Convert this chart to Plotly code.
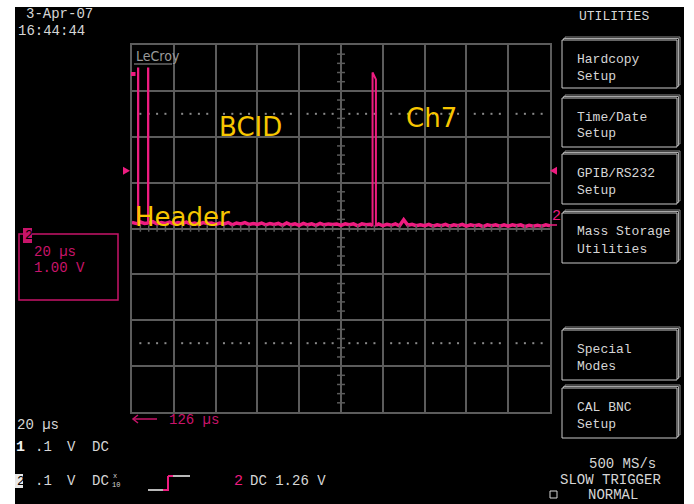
import plotly.graph_objects as go

# ---------------- waveform data (channel 2) ----------------
t_start_us = 126.0          # left edge of the screen, 126 us after trigger
t_step_us = 2.0             # baseline sample spacing
screen_span_us = 200.0      # 10 div x 20 us/div

# baseline samples (V), one per 2 us from 126 us to 326 us
base_v = [
    0.13, 0.10, 0.14, 0.11, 0.12, 0.15, 0.10, 0.13, 0.11, 0.14,
    0.10, 0.13, 0.11, 0.14, 0.10, 0.12, 0.09, 0.13, 0.11, 0.12,
    0.09, 0.12, 0.10, 0.13, 0.08, 0.12, 0.10, 0.13, 0.09, 0.11,
    0.09, 0.12, 0.08, 0.11, 0.09, 0.11, 0.07, 0.12, 0.08, 0.10,
    0.07, 0.11, 0.08, 0.10, 0.07, 0.11, 0.08, 0.10, 0.09, 0.10,
    0.07, 0.10, 0.08, 0.10, 0.06, 0.10, 0.08, 0.09, 0.07, 0.10,
    0.06, 0.09, 0.07, 0.10, 0.06, 0.19, 0.07, 0.09, 0.06, 0.08,
    0.06, 0.09, 0.05, 0.08, 0.06, 0.09, 0.05, 0.08, 0.06, 0.09,
    0.05, 0.08, 0.06, 0.08, 0.04, 0.08, 0.06, 0.08, 0.05, 0.08,
    0.05, 0.08, 0.06, 0.08, 0.04, 0.07, 0.05, 0.07, 0.05, 0.08,
    0.06,
]

# narrow pulses: header bits and channel-7 hit
pulse_rise_us = [128.87, 133.66, 241.10]
pulse_fall_us = [129.00, 133.80, 242.70]
pulse_top_start_v = [3.49, 3.49, 3.40]
pulse_top_end_v = [3.49, 3.49, 3.25]

trig_level_v = 1.26

# ---------------- build the trace ----------------
base_t = [t_start_us + i * t_step_us for i in range(len(base_v))]


def base_at(t):
    i = min(range(len(base_t)), key=lambda k: abs(base_t[k] - t))
    return base_v[i]


def in_pulse(t):
    return any(r - 0.05 <= t <= f + 0.05 for r, f in zip(pulse_rise_us, pulse_fall_us))


pts = [(t, v) for t, v in zip(base_t, base_v) if not in_pulse(t)]
for r, f, a, b in zip(pulse_rise_us, pulse_fall_us, pulse_top_start_v, pulse_top_end_v):
    pts += [(r - 0.001, base_at(r)), (r, a), (f, b), (f + 0.001, base_at(f))]
pts.sort(key=lambda p: p[0])
wave_t = [p[0] for p in pts]
wave_v = [p[1] for p in pts]

# baseline-only copy (broken at the pulses) drawn thicker for the noise band
band_t, band_v = [], []
for t, v in pts:
    if v > 1.0:
        if band_t and band_t[-1] is not None:
            band_t.append(None)
            band_v.append(None)
        continue
    band_t.append(t)
    band_v.append(v)

# ---------------- page geometry helpers ----------------
W, H = 694, 504
PINK = "#ee1c80"
DPINK = "#c8146a"
GRID = "#5c5c5c"
TXT = "#d6d6d6"
GOLD = "#f7c600"
MONO = "Liberation Mono, DejaVu Sans Mono, monospace"


def px(x):
    return x / W


def py(y):
    return 1 - y / H


x_lo, x_hi = t_start_us, t_start_us + screen_span_us
y_lo, y_hi = -4.0, 4.0
x_mid = (x_lo + x_hi) / 2
x_dom = [px(132), px(550)]
y_dom = [py(412), py(45)]


def volts_to_paper(v):
    return y_dom[0] + (v - y_lo) / (y_hi - y_lo) * (y_dom[1] - y_dom[0])


fig = go.Figure()

# dotted graticule lines at +-2.5 div
dot_t = [x_lo + k * 4 for k in range(51) if k % 5 != 0]
for lvl in (2.5, -2.5):
    fig.add_trace(go.Scatter(
        x=dot_t, y=[lvl] * len(dot_t), mode="markers",
        marker=dict(symbol="square", size=2, color="#8a8a8a"),
        hoverinfo="skip", showlegend=False))

# waveform
fig.add_trace(go.Scatter(
    x=wave_t, y=wave_v, mode="lines",
    line=dict(color=PINK, width=2), hoverinfo="skip", showlegend=False))
fig.add_trace(go.Scatter(
    x=band_t, y=band_v, mode="lines", connectgaps=False,
    line=dict(color=PINK, width=3.5), hoverinfo="skip", showlegend=False))

shapes = []
# black screen area
shapes.append(dict(type="rect", xref="paper", yref="paper", layer="below",
                   x0=px(15), x1=px(684), y0=0, y1=py(7),
                   fillcolor="black", line=dict(width=0)))

# minor ticks on the centre cross
for k in range(41):
    v = y_lo + k * 0.2
    if k % 5 == 0:
        continue
    shapes.append(dict(type="line", xref="x", yref="y",
                       x0=x_mid - 1.9, x1=x_mid + 1.9, y0=v, y1=v,
                       line=dict(color=GRID, width=1.5)))
for k in range(51):
    if k % 5 == 0:
        continue
    t = x_lo + k * 4
    shapes.append(dict(type="line", xref="x", yref="y",
                       x0=t, x1=t, y0=-0.07, y1=0.07,
                       line=dict(color=GRID, width=1.5)))

# trigger level markers at both edges of the grid
ty = volts_to_paper(trig_level_v)
dy = 4 / H
shapes.append(dict(type="path", xref="paper", yref="paper",
                   path="M {} {} L {} {} L {} {} Z".format(
                       px(123), ty + dy, px(130), ty, px(123), ty - dy),
                   fillcolor=PINK, line=dict(width=0)))
shapes.append(dict(type="path", xref="paper", yref="paper",
                   path="M {} {} L {} {} L {} {} Z".format(
                       px(557), ty + dy, px(550), ty, px(557), ty - dy),
                   fillcolor=PINK, line=dict(width=0)))

# small marker at top-left of the grid
shapes.append(dict(type="rect", xref="paper", yref="paper",
                   x0=px(131), x1=px(135.5), y0=py(76), y1=py(72),
                   fillcolor=PINK, line=dict(width=0)))

# LeCroy logo underline
shapes.append(dict(type="line", xref="paper", yref="paper",
                   x0=px(134), x1=px(172), y0=py(64), y1=py(64),
                   line=dict(color="#9a9a9a", width=1)))

# menu buttons
buttons = [
    ("Hardcopy", "Setup", 40, 88),
    ("Time/Date", "Setup", 98, 147),
    ("GPIB/RS232", "Setup", 154, 204),
    ("Mass Storage", "Utilities", 213, 263),
    ("Special", "Modes", 330, 380),
    ("CAL BNC", "Setup", 388, 438),
]
annotations = []


def text(x, y, s, color=TXT, size=14, anchor="left", family=MONO, **kw):
    annotations.append(dict(xref="paper", yref="paper", x=px(x), y=py(y),
                            text=s, showarrow=False, xanchor=anchor,
                            yanchor="middle",
                            font=dict(family=family, size=size, color=color),
                            **kw))


for l1, l2, top, bot in buttons:
    for off, col in ((3, "#8c8c8c"), (1.5, "#a8a8a8")):
        shapes.append(dict(type="rect", xref="paper", yref="paper",
                           x0=px(562 + off), x1=px(677 + off),
                           y0=py(bot - off), y1=py(top - off),
                           fillcolor="black", line=dict(color=col, width=1)))
    shapes.append(dict(type="rect", xref="paper", yref="paper",
                       x0=px(562), x1=px(677), y0=py(bot), y1=py(top),
                       fillcolor="black", line=dict(color="#c8c8c8", width=1)))
    text(575, top + 19, l1, size=13)
    text(575, top + 36, l2, size=13)

# channel 2 info box on the left
shapes.append(dict(type="rect", xref="paper", yref="paper",
                   x0=px(19), x1=px(118), y0=py(300), y1=py(234),
                   line=dict(color=DPINK, width=1.5)))
shapes.append(dict(type="rect", xref="paper", yref="paper",
                   x0=px(23), x1=px(32), y0=py(243), y1=py(228),
                   fillcolor=DPINK, line=dict(width=0)))

# channel 2 ground marker underline at right edge
shapes.append(dict(type="line", xref="paper", yref="paper",
                   x0=px(550), x1=px(557), y0=py(225), y1=py(225),
                   line=dict(color=PINK, width=1.5)))

# trigger delay arrow
shapes.append(dict(type="line", xref="paper", yref="paper",
                   x0=px(133), x1=px(157), y0=py(419), y1=py(419),
                   line=dict(color=DPINK, width=1.5)))
shapes.append(dict(type="path", xref="paper", yref="paper",
                   path="M {} {} L {} {} L {} {}".format(
                       px(138), py(415), px(133), py(419), px(138), py(423)),
                   line=dict(color=DPINK, width=1.5)))

# trigger slope symbol
shapes.append(dict(type="line", xref="paper", yref="paper",
                   x0=px(148), x1=px(167), y0=py(490), y1=py(490),
                   line=dict(color="#b8b8b8", width=2)))
shapes.append(dict(type="path", xref="paper", yref="paper",
                   path="M {} {} L {} {} L {} {}".format(
                       px(163), py(490), px(168), py(490), px(168), py(476)),
                   line=dict(color=PINK, width=2)))
shapes.append(dict(type="line", xref="paper", yref="paper",
                   x0=px(168), x1=px(173), y0=py(476), y1=py(476),
                   line=dict(color=PINK, width=2)))
shapes.append(dict(type="line", xref="paper", yref="paper",
                   x0=px(173), x1=px(190), y0=py(476), y1=py(476),
                   line=dict(color="#b8b8b8", width=2)))

# channel 2 inverted label box
shapes.append(dict(type="rect", xref="paper", yref="paper",
                   x0=px(15), x1=px(23), y0=py(488), y1=py(474),
                   fillcolor="#e8e8e8", line=dict(width=0)))
# normal-mode square
shapes.append(dict(type="rect", xref="paper", yref="paper",
                   x0=px(550), x1=px(557), y0=py(498), y1=py(491),
                   line=dict(color=TXT, width=1)))

# ---------------- texts ----------------
text(24, 14, "3-Apr-07")
text(16, 31, "16:44:44")
text(577, 17, "UTILITIES", size=13)
text(134, 56, "LeCroy", color="#9a9a9a", size=14,
     family="Liberation Sans Narrow, DejaVu Sans Condensed, Arial Narrow, sans-serif")

text(217, 127, "BCID", color=GOLD, size=26, family="DejaVu Sans, Verdana, sans-serif")
text(404, 118, "Ch7", color=GOLD, size=26, family="DejaVu Sans, Verdana, sans-serif")
text(133, 217, "Header", color=GOLD, size=26, family="DejaVu Sans, Verdana, sans-serif")

text(550, 216, "2", color=PINK, size=15)
text(23.5, 235, "2", color="black", size=13)
text(32, 252, "20 µs", color=DPINK, size=14)
text(32, 268, "1.00 V", color=DPINK, size=14)

text(167, 420, "126 µs", color=DPINK, size=14)
text(15, 425, "20 µs")
text(14, 447, "<b>1</b>", color="#f0f0f0", size=15)
text(33, 447, ".1")
text(65, 447, "V")
text(90, 447, "DC")
text(15, 481, "2", color="black", size=13)
text(33, 481, ".1")
text(65, 481, "V")
text(90, 481, "DC")
text(111, 476, "x", size=7)
text(110, 485, "10", size=7)
text(232, 481, "2", color=PINK, size=15)
text(248, 481, "DC 1.26 V")

text(658, 464, "500 MS/s", anchor="right")
text(558, 480, "SLOW TRIGGER")
text(586, 495, "NORMAL")

axis_common = dict(showticklabels=False, ticks="", zeroline=False,
                   showgrid=True, gridcolor=GRID, gridwidth=1.5,
                   showline=True, mirror=True, linecolor=GRID, linewidth=1.5,
                   fixedrange=True)

fig.update_layout(
    width=W, height=H, autosize=False,
    margin=dict(l=0, r=0, t=0, b=0),
    paper_bgcolor="white", plot_bgcolor="black",
    xaxis=dict(domain=x_dom, range=[x_lo, x_hi],
               tick0=x_lo, dtick=20, **axis_common),
    yaxis=dict(domain=y_dom, range=[y_lo, y_hi],
               tick0=0, dtick=1, **axis_common),
    shapes=shapes, annotations=annotations, showlegend=False,
)

fig.write_html("out.html")
